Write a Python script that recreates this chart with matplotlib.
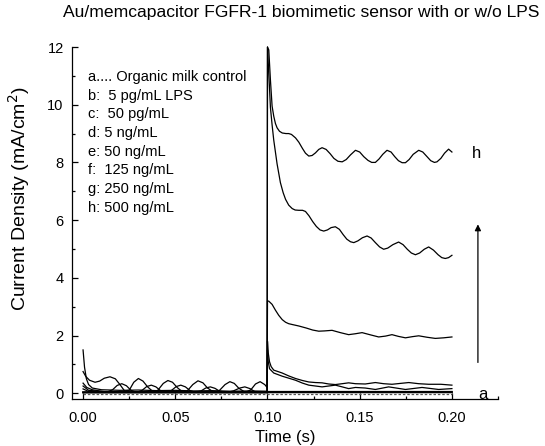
import matplotlib
matplotlib.use("Agg")
import matplotlib.pyplot as plt
import numpy as np

plt.rcParams['font.family'] = ['Liberation Sans', 'DejaVu Sans']

# ---- data (time in s, current density in mA/cm^2) ----
# h: 500 ng/mL
h_t = [0.0, 0.0015, 0.0035, 0.0065, 0.009, 0.0115, 0.0146, 0.0175, 0.020, 0.0225,
       0.025, 0.0275, 0.030, 0.0325, 0.035, 0.038, 0.0405, 0.0435, 0.046, 0.0485,
       0.051, 0.054, 0.0565, 0.0595, 0.0623, 0.065, 0.0675, 0.071, 0.074, 0.077,
       0.0796, 0.082, 0.0845, 0.088, 0.091, 0.0935, 0.096, 0.0985, 0.0998,
       0.1, 0.1007, 0.1016, 0.1025, 0.1034, 0.1043, 0.1052, 0.1065, 0.108, 0.110,
       0.1115, 0.113, 0.1152, 0.117, 0.119, 0.1206, 0.1224, 0.1242, 0.126, 0.1278,
       0.1296, 0.1318, 0.134, 0.136, 0.1382, 0.1405, 0.1427, 0.145, 0.1477, 0.150,
       0.1522, 0.1545, 0.1565, 0.1585, 0.1605, 0.1625, 0.1648, 0.167, 0.169, 0.171,
       0.173, 0.1748, 0.1768, 0.179, 0.182, 0.1842, 0.1865, 0.1885, 0.1905, 0.1919,
       0.194, 0.196, 0.1982, 0.2]
h_i = [0.75, 0.58, 0.45, 0.38, 0.42, 0.52, 0.57, 0.50, 0.30, 0.08,
       0.10, 0.38, 0.51, 0.42, 0.22, 0.05, 0.10, 0.34, 0.44, 0.38,
       0.20, 0.04, 0.08, 0.30, 0.43, 0.36, 0.18, 0.03, 0.10, 0.30,
       0.40, 0.34, 0.17, 0.03, 0.12, 0.32, 0.40, 0.30, 0.20,
       12.0, 11.9, 10.85, 9.95, 9.6, 9.35, 9.2, 9.08, 9.02, 9.0,
       9.0, 8.97, 8.85, 8.7, 8.48, 8.32, 8.22, 8.24, 8.33, 8.45,
       8.51, 8.45, 8.30, 8.14, 8.04, 8.02, 8.10, 8.26, 8.42, 8.36,
       8.20, 8.07, 8.0, 8.0, 8.12, 8.28, 8.42, 8.36, 8.20, 8.06,
       7.99, 7.99, 8.10, 8.28, 8.42, 8.36, 8.20, 8.06, 8.0, 8.02,
       8.14, 8.32, 8.46, 8.36]

# g: 250 ng/mL
g_t = [0.0, 0.002, 0.005, 0.009, 0.013, 0.016, 0.0185, 0.021, 0.0235, 0.026,
       0.029, 0.032, 0.0345, 0.037, 0.0395, 0.042, 0.045, 0.048, 0.0505, 0.053,
       0.0555, 0.058, 0.061, 0.064, 0.0665, 0.069, 0.0715, 0.074, 0.078, 0.0815,
       0.085, 0.0877, 0.0905, 0.093, 0.096, 0.0998,
       0.1, 0.1007, 0.1016, 0.1025, 0.1034, 0.1052, 0.107, 0.1085, 0.1098, 0.1115,
       0.1134, 0.115, 0.117, 0.119, 0.1206, 0.1225, 0.1245, 0.1265, 0.1285, 0.1305,
       0.1325, 0.1345, 0.1368, 0.139, 0.141, 0.143, 0.145, 0.1468, 0.149, 0.1515,
       0.154, 0.1562, 0.1585, 0.1608, 0.163, 0.1652, 0.168, 0.1711, 0.1735, 0.1758,
       0.178, 0.1802, 0.1825, 0.185, 0.1874, 0.190, 0.1925, 0.1945, 0.1964, 0.1982,
       0.2]
g_i = [0.35, 0.20, 0.12, 0.08, 0.04, 0.12, 0.27, 0.33, 0.26, 0.10,
       0.03, 0.10, 0.23, 0.28, 0.22, 0.09, 0.03, 0.10, 0.23, 0.28,
       0.22, 0.09, 0.03, 0.08, 0.18, 0.22, 0.17, 0.07, 0.03, 0.08,
       0.18, 0.22, 0.16, 0.06, 0.02, 0.04,
       12.0, 11.1, 9.9, 9.3, 8.77, 7.95, 7.3, 6.95, 6.72, 6.52,
       6.40, 6.35, 6.34, 6.34, 6.30, 6.15, 5.95, 5.78, 5.66, 5.62,
       5.66, 5.74, 5.77, 5.68, 5.50, 5.34, 5.25, 5.22, 5.28, 5.39,
       5.45, 5.38, 5.22, 5.07, 4.99, 5.03, 5.15, 5.24, 5.15, 4.99,
       4.86, 4.80, 4.86, 4.99, 5.07, 4.96, 4.80, 4.70, 4.67, 4.70,
       4.78]

# f: 125 ng/mL
f_t = [0.0, 0.0008, 0.0018, 0.003, 0.005, 0.01, 0.02, 0.03, 0.04, 0.05,
       0.06, 0.07, 0.08, 0.09, 0.0998,
       0.1, 0.1007, 0.1025, 0.1043, 0.1061, 0.108, 0.1098, 0.1115, 0.1135, 0.117,
       0.121, 0.1245, 0.1278, 0.131, 0.135, 0.1395, 0.144, 0.1475, 0.1513, 0.156,
       0.1603, 0.164, 0.1675, 0.171, 0.1748, 0.1785, 0.182, 0.1865, 0.191, 0.1955,
       0.2]
f_i = [1.5, 0.9, 0.5, 0.3, 0.18, 0.12, 0.10, 0.11, 0.09, 0.10,
       0.08, 0.09, 0.07, 0.08, 0.07,
       3.2, 3.19, 3.08, 2.88, 2.70, 2.55, 2.46, 2.41, 2.38, 2.33,
       2.26, 2.19, 2.15, 2.16, 2.18, 2.10, 2.03, 2.06, 2.10, 2.02,
       1.95, 1.98, 2.03, 1.97, 1.92, 1.96, 1.99, 1.94, 1.90, 1.92,
       1.95]

# e: 50 ng/mL
e_t = [0.0, 0.003, 0.01, 0.03, 0.05, 0.07, 0.09, 0.0998,
       0.1, 0.1004, 0.1011, 0.102, 0.1034, 0.108, 0.1115, 0.1152, 0.119, 0.1224,
       0.126, 0.1296, 0.1332, 0.1368, 0.1405, 0.144, 0.1477, 0.153, 0.1585, 0.163,
       0.1675, 0.172, 0.1766, 0.182, 0.1874, 0.194, 0.2]
e_i = [0.25, 0.10, 0.06, 0.05, 0.06, 0.05, 0.05, 0.05,
       1.8, 1.4, 1.09, 0.92, 0.80, 0.70, 0.60, 0.51, 0.44, 0.39,
       0.37, 0.36, 0.32, 0.30, 0.33, 0.36, 0.33, 0.32, 0.37, 0.33,
       0.31, 0.34, 0.37, 0.33, 0.31, 0.31, 0.28]

# d: 5 ng/mL
d_t = [0.0, 0.003, 0.01, 0.03, 0.05, 0.07, 0.09, 0.0998,
       0.1, 0.1004, 0.1011, 0.1034, 0.108, 0.1152, 0.119, 0.1224, 0.1296, 0.1332,
       0.1368, 0.1405, 0.144, 0.1477, 0.153, 0.1585, 0.1657, 0.1748, 0.1838, 0.1928,
       0.2]
d_i = [0.15, 0.06, 0.04, 0.03, 0.04, 0.03, 0.03, 0.03,
       1.5, 1.1, 0.85, 0.70, 0.59, 0.45, 0.35, 0.28, 0.22, 0.25,
       0.28, 0.22, 0.16, 0.20, 0.18, 0.13, 0.22, 0.13, 0.20, 0.13,
       0.16]

# c: 50 pg/mL, b: 5 pg/mL LPS, a: organic milk control
c_t = [0.0, 0.05, 0.0998, 0.1, 0.15, 0.2]
c_i = [0.04, 0.04, 0.04, 0.05, 0.05, 0.05]
b_t = [0.0, 0.05, 0.0998, 0.1, 0.15, 0.2]
b_i = [0.02, 0.02, 0.02, 0.03, 0.03, 0.03]
a_t = [0.0, 0.1, 0.2]
a_i = [-0.02, -0.02, -0.02]

legend_lines = ["a.... Organic milk control", "b:  5 pg/mL LPS", "c:  50 pg/mL",
                "d: 5 ng/mL", "e: 50 ng/mL", "f:  125 ng/mL", "g: 250 ng/mL",
                "h: 500 ng/mL"]

fig = plt.figure(figsize=(5.45, 4.46), dpi=100)
ax = fig.add_axes([0.1321, 0.1054, 0.7817, 0.7892])

lw = 0.9
for tt, ii in [(h_t, h_i), (g_t, g_i), (f_t, f_i), (e_t, e_i), (d_t, d_i)]:
    ax.plot(tt, ii, color='black', lw=lw, clip_on=False)
for tt, ii in [(c_t, c_i), (b_t, b_i)]:
    ax.plot(tt, ii, color='black', lw=1.3)
ax.plot(a_t, a_i, color='#555555', lw=lw, ls=(0, (2, 1.5)))

ax.set_xlim(-0.006, 0.225)
ax.set_ylim(-0.2, 12.0)
ax.set_xticks([0.0, 0.05, 0.10, 0.15, 0.20])
ax.set_xticks(np.arange(0.025, 0.23, 0.05), minor=True)
ax.set_yticks([0, 2, 4, 6, 8, 10, 12])
ax.set_yticks([1, 3, 5, 7, 9, 11], minor=True)
ax.xaxis.set_major_formatter(matplotlib.ticker.FormatStrFormatter('%.2f'))

ax.spines[['top', 'right']].set_visible(False)
for s in ['left', 'bottom']:
    ax.spines[s].set_linewidth(0.9)
ax.tick_params(which='major', direction='in', length=4.5, width=0.9, labelsize=10.5, pad=6)
ax.tick_params(axis='x', which='major', pad=9)
ax.tick_params(which='minor', direction='in', length=2.5, width=0.9)

ax.set_xlabel('Time (s)', fontsize=12)
ax.set_ylabel('Current Density (mA/cm$^2$)', fontsize=14)
ax.xaxis.set_label_coords(0.5, -0.088)
ax.yaxis.set_label_coords(-0.094, 0.57)
fig.text(0.553, 0.972, 'Au/memcapacitor FGFR-1 biomimetic sensor with or w/o LPS',
         ha='center', va='center', fontsize=12.6)

for k, line in enumerate(legend_lines):
    ax.text(0.0376, 0.915 - k * 0.053, line, transform=ax.transAxes,
            fontsize=10.5, va='center', ha='left')

ax.text(0.2108, 8.32, 'h', fontsize=12, va='center', ha='left')
ax.text(0.2141, -0.05, 'a', fontsize=12, va='center', ha='left')
ax.annotate('', xy=(0.2141, 5.95), xytext=(0.2141, 0.97),
            arrowprops=dict(arrowstyle='-|>', lw=0.9, color='black', mutation_scale=9))

fig.savefig('out.png', dpi=100)
